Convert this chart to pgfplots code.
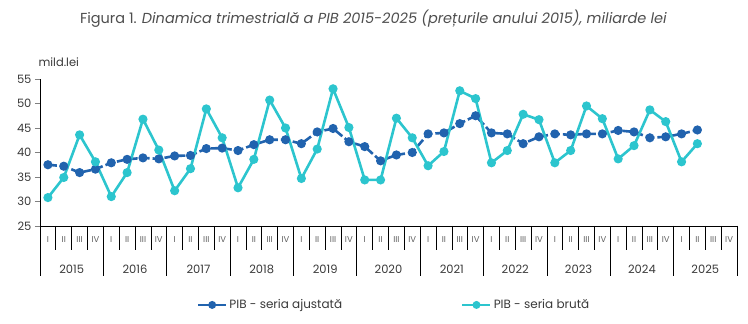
\documentclass[border=0pt]{standalone}
\usepackage{pgfplots}
\pgfplotsset{compat=1.18}
\usepackage{fontspec}
\setmainfont{Poppins}
\definecolor{adj}{HTML}{2163AE}
\definecolor{raw}{HTML}{2CC5CE}
\definecolor{txt}{HTML}{3A3A3A}
\pgfplotstableread{
x y
0 37.5
1 37.2
2 35.9
3 36.6
4 37.9
5 38.6
6 38.9
7 38.7
8 39.3
9 39.4
10 40.8
11 40.9
12 40.4
13 41.6
14 42.6
15 42.6
16 41.8
17 44.2
18 44.9
19 42.2
20 41.2
21 38.3
22 39.5
23 40.0
24 43.8
25 44.0
26 45.9
27 47.5
28 44.0
29 43.8
30 41.8
31 43.2
32 43.8
33 43.6
34 43.8
35 43.8
36 44.5
37 44.2
38 43.0
39 43.2
40 43.8
41 44.6
}\adjdata
\pgfplotstableread{
x y
0 30.8
1 34.9
2 43.6
3 38.1
4 31.0
5 35.9
6 46.8
7 40.5
8 32.2
9 36.7
10 48.9
11 43.0
12 32.8
13 38.6
14 50.7
15 45.0
16 34.7
17 40.7
18 53.0
19 45.1
20 34.4
21 34.4
22 47.0
23 43.0
24 37.3
25 40.2
26 52.6
27 51.0
28 37.9
29 40.4
30 47.8
31 46.7
32 37.9
33 40.4
34 49.5
35 46.9
36 38.7
37 41.4
38 48.7
39 46.3
40 38.1
41 41.8
}\rawdata
\begin{document}
\begin{tikzpicture}[x=1pt,y=1pt]
\path[use as bounding box] (0,0) rectangle (748,324);
\node[text=txt!90,font=\fontsize{14.5}{17}\selectfont] at (373.5,305) {Figura 1. \textit{Dinamica trimestrială a PIB 2015-2025 (prețurile anului 2015), miliarde lei}};
\node[anchor=west,text=txt,font=\fontsize{11.5}{13}\selectfont] at (35,262) {mild.lei};
\begin{axis}[
  at={(40pt,98pt)}, anchor=south west,
  scale only axis, width=697pt, height=147pt,
  xmin=-0.5, xmax=43.5, ymin=25, ymax=55,
  axis lines=left, axis line style={-, black, line width=0.8pt},
  ytick={25,30,...,55},
  tick align=outside, major tick length=5pt,
  every major x tick/.append style={draw=none},
  xtick={0,...,43},
  xticklabels={I,II,III,IV,I,II,III,IV,I,II,III,IV,I,II,III,IV,I,II,III,IV,I,II,III,IV,I,II,III,IV,I,II,III,IV,I,II,III,IV,I,II,III,IV,I,II,III,IV},
  x tick label style={font=\fontsize{8.5}{10}\selectfont, text=txt!80, yshift=-2pt},
  y tick label style={font=\fontsize{11.5}{13}\selectfont, text=txt},
  /pgf/number format/assume math mode=true,
  clip=false,
  legend columns=2,
  legend style={draw=none, at={(axis description cs:0.508,-0.537)}, anchor=center,
    font=\fontsize{12}{14}\selectfont, text=txt, inner xsep=0pt,
    /tikz/every even column/.append style={column sep=117pt}},
  legend image code/.code={\draw[#1,solid] (0pt,0pt) -- (28pt,0pt); \fill[#1,solid] (14pt,0pt) circle (2.6pt);},
]
\addplot[adj, line width=2.6pt, dash pattern=on 9pt off 3pt, mark=*, mark size=3.2pt, mark options={solid}] table[x=x,y=y]{\adjdata};
\addlegendentry{PIB - seria ajustată}
\addplot[raw, line width=2.6pt, mark=*, mark size=3.2pt] table[x=x,y=y]{\rawdata};
\addlegendentry{PIB - seria brută}
\pgfplotsinvokeforeach{-0.5,0.5,...,43.5}{\draw[black,line width=0.7pt] (axis cs:#1,25) -- ++(0pt,-24pt);}
\pgfplotsinvokeforeach{-0.5,3.5,...,43.5}{\draw[black,line width=0.7pt] (axis cs:#1,25) -- ++(0pt,-50pt);}
\pgfplotsinvokeforeach{2015,2016,2017,2018,2019,2020,2021,2022,2023,2024,2025}{
  \node[text=txt,font=\fontsize{11.5}{13}\selectfont] at (axis cs:{4*(#1-2015)+1.5},25) [yshift=-43pt] {#1};
}
\end{axis}
\end{tikzpicture}
\end{document}
